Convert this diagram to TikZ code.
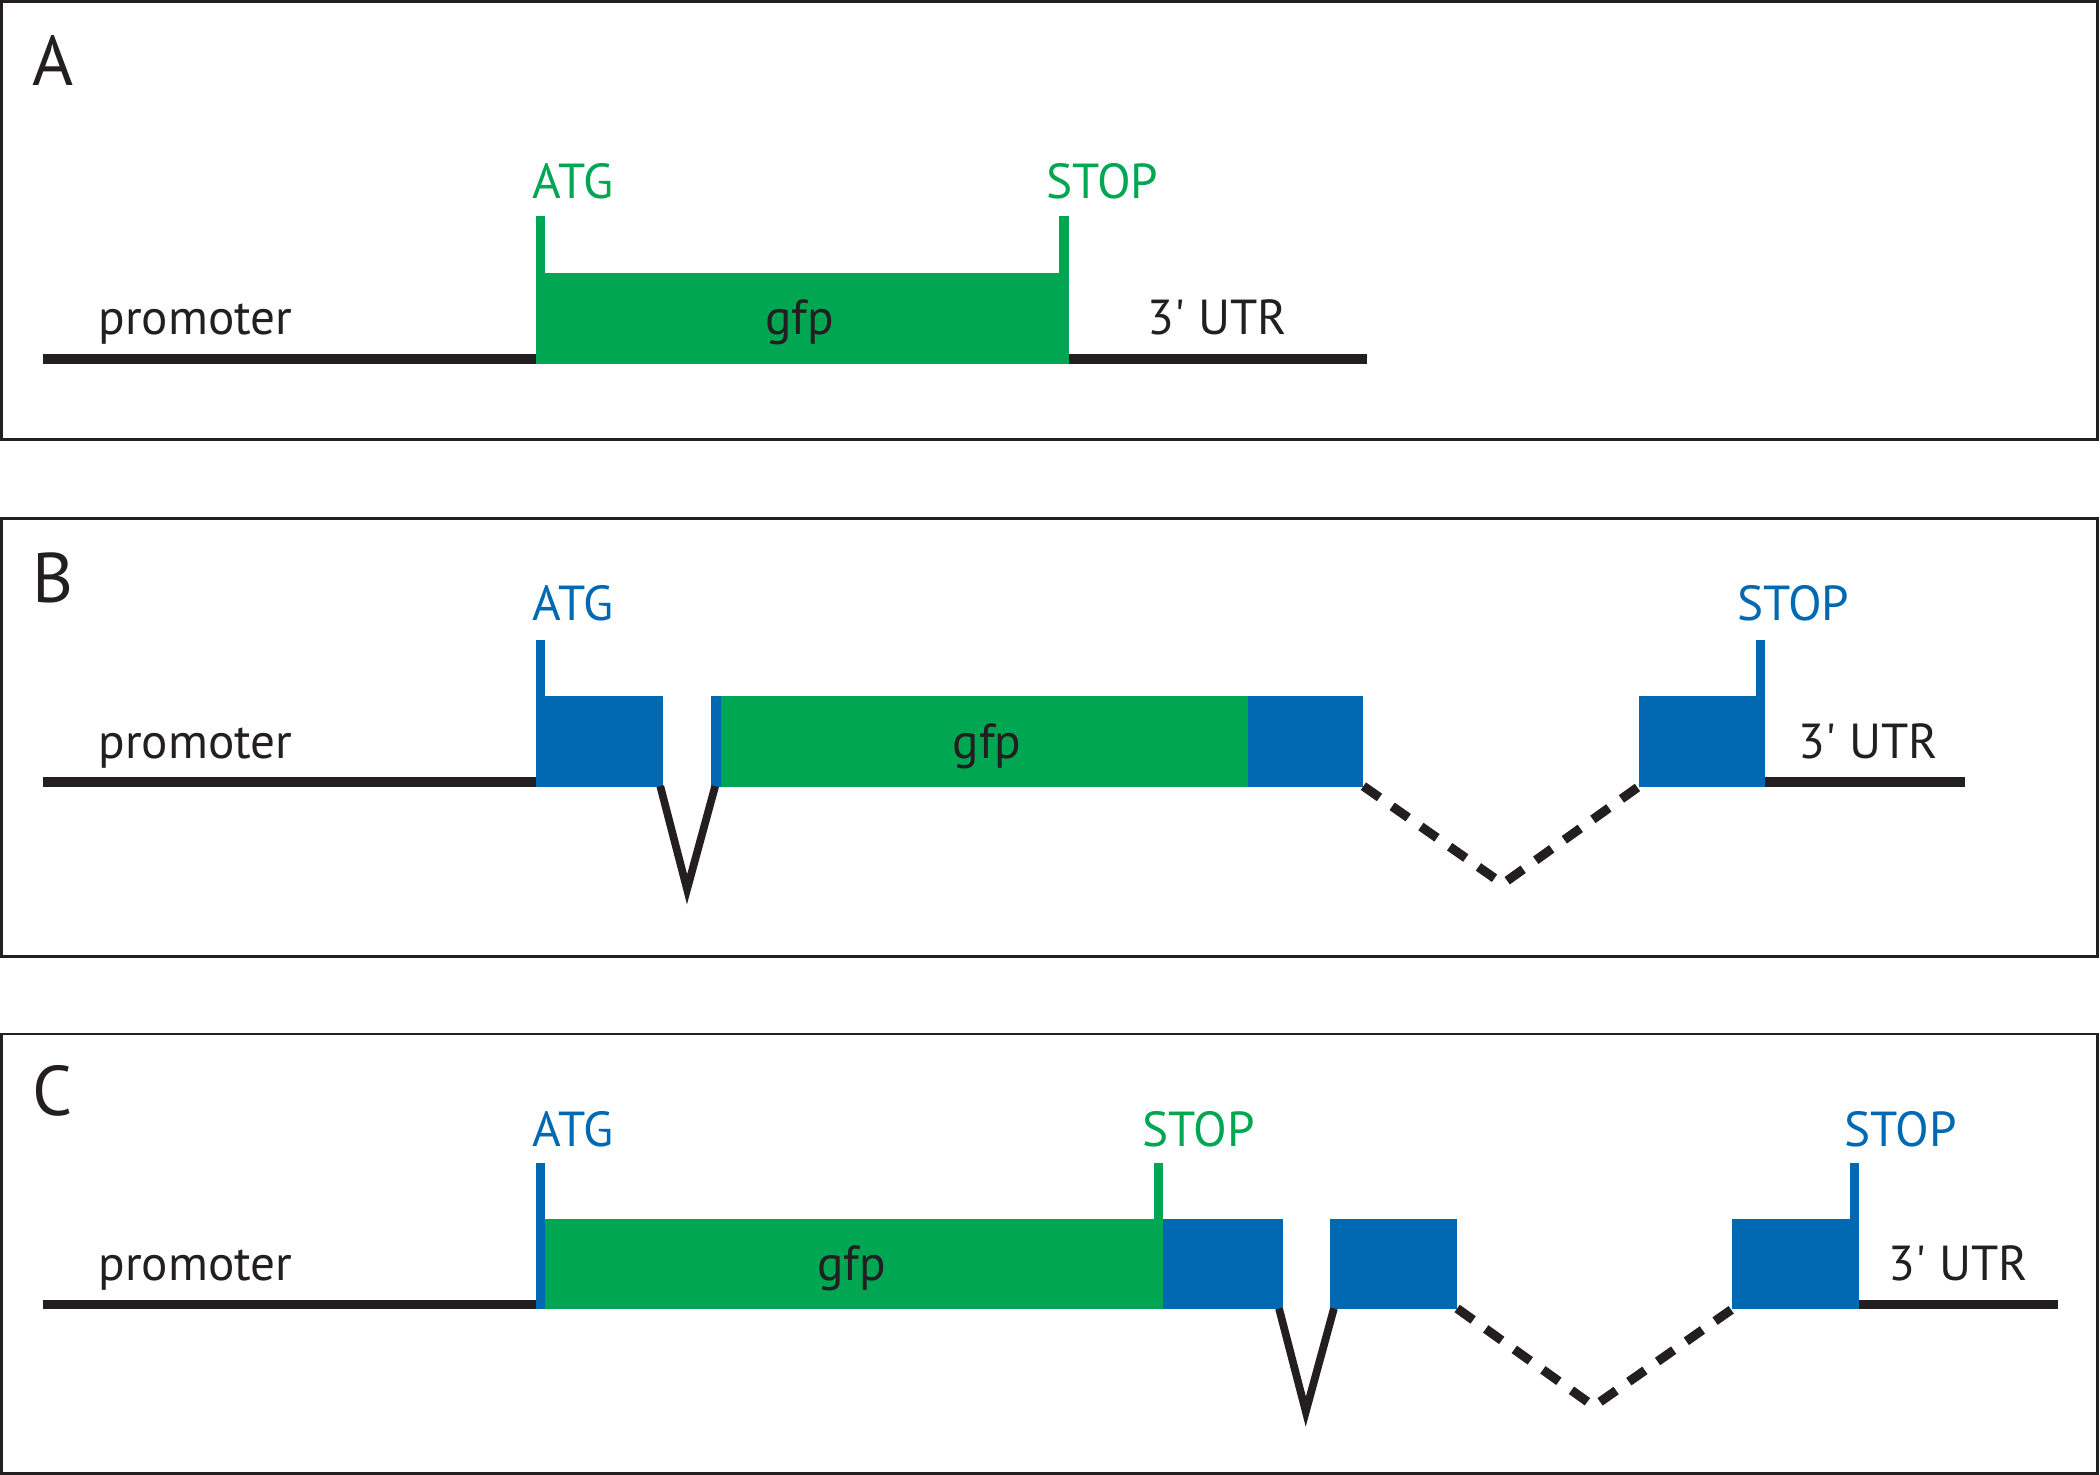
\documentclass[tikz,border=0pt]{standalone}
\usepackage{fontspec}
\setmainfont{PT Sans}
\usepackage{tikz}
\usetikzlibrary{%
    calc,%
    positioning%
}
\definecolor{cdsgreen}{RGB}{0,166,81}
\definecolor{exonblue}{RGB}{0,105,177}
\definecolor{dnablack}{RGB}{35,31,32}

\begin{document}
\begin{tikzpicture}[x=0.013393cm, y=-0.013393cm,
    panel/.style = {draw = dnablack, line width = 0.75pt},
    dna/.style = {draw = dnablack, line width = 2.66pt},
    intron/.style = {draw = dnablack, line width = 2.2pt, line join = miter},
    skipped/.style = {draw = dnablack, line width = 2.6pt, dash pattern = on 5.6pt off 4.4pt},
    lbl/.style = {font = \fontsize{14}{16}\selectfont, text = dnablack, anchor = base, inner sep = 0pt},
    tag/.style = {font = \fontsize{20}{24}\selectfont, text = dnablack, anchor = base west, inner sep = 0pt}
]
    \useasboundingbox (0,0) rectangle (1568,1101);

    % Frames
    \draw[panel] (1,1) rectangle (1566,328);
    \draw[panel] (1,387) rectangle (1566,714);
    \draw[panel] (1,772) rectangle (1566,1100);

    % Panel A
    \node[tag] (tagA) at (24,64) {A};
    \draw[dna] (32,268) -- (400,268);
    \draw[dna] (798,268) -- (1021,268);
    \fill[cdsgreen] (400,204) rectangle (798,271.5);
    \fill[cdsgreen] (400,161) rectangle (407,204);
    \fill[cdsgreen] (791,161) rectangle (798,204);
    \node[lbl, text = cdsgreen] (atgA) at (428,148) {ATG};
    \node[lbl, text = cdsgreen] (stopA) at (823,148) {STOP};
    \node[lbl] (promA) at (146,250) {promoter};
    \node[lbl] (gfpA) at (597,250) {gfp};
    \node[lbl] (utrA) at (909,250) {3\textquotesingle{} UTR};

    % Panel B
    \node[tag] (tagB) at (24,450) {B};
    \draw[dna] (32,584) -- (400,584);
    \draw[dna] (1318,584) -- (1467,584);
    \fill[exonblue] (400,520) rectangle (495,587.5);
    \fill[exonblue] (400,478) rectangle (407,520);
    \fill[exonblue] (531,520) rectangle (538,587.5);
    \fill[cdsgreen] (538,520) rectangle (932,587.5);
    \fill[exonblue] (932,520) rectangle (1018,587.5);
    \fill[exonblue] (1224,520) rectangle (1318,587.5);
    \fill[exonblue] (1311,478) rectangle (1318,520);
    % Define intron vertices
    \coordinate (b1) at (493,587);
    \coordinate (b2) at (513,664);
    \coordinate (b3) at (534,587);
    \coordinate (b4) at (1018,587);
    \coordinate (b5) at (1122,660);
    \coordinate (b6) at (1224,587);
    \draw[intron] (b1) -- (b2) -- (b3);
    \draw[skipped] (b4) -- (b5) -- (b6);
    \node[lbl, text = exonblue] (atgB) at (428,463) {ATG};
    \node[lbl, text = exonblue] (stopB) at (1339,463) {STOP};
    \node[lbl] (promB) at (146,566) {promoter};
    \node[lbl] (gfpB) at (737,566) {gfp};
    \node[lbl] (utrB) at (1395,566) {3\textquotesingle{} UTR};

    % Panel C
    \node[tag] (tagC) at (24,833) {C};
    \draw[dna] (32,974) -- (400,974);
    \draw[dna] (1388,974) -- (1537,974);
    \fill[exonblue] (400,868) rectangle (407,977.5);
    \fill[cdsgreen] (407,910) rectangle (868,977.5);
    \fill[cdsgreen] (862,868) rectangle (868,910);
    \fill[exonblue] (868,910) rectangle (958,977.5);
    \fill[exonblue] (993,910) rectangle (1088,977.5);
    \fill[exonblue] (1293,910) rectangle (1388,977.5);
    \fill[exonblue] (1381,868) rectangle (1388,910);
    % Define intron vertices
    \coordinate (c1) at (955,977);
    \coordinate (c2) at (975,1054);
    \coordinate (c3) at (996,977);
    \coordinate (c4) at (1088,977);
    \coordinate (c5) at (1190,1050);
    \coordinate (c6) at (1294,977);
    \draw[intron] (c1) -- (c2) -- (c3);
    \draw[skipped] (c4) -- (c5) -- (c6);
    \node[lbl, text = exonblue] (atgC) at (428,856) {ATG};
    \node[lbl, text = cdsgreen] (stopC1) at (895,856) {STOP};
    \node[lbl, text = exonblue] (stopC2) at (1419,856) {STOP};
    \node[lbl] (promC) at (146,956) {promoter};
    \node[lbl] (gfpC) at (636,956) {gfp};
    \node[lbl] (utrC) at (1462,956) {3\textquotesingle{} UTR};
\end{tikzpicture}
\end{document}
